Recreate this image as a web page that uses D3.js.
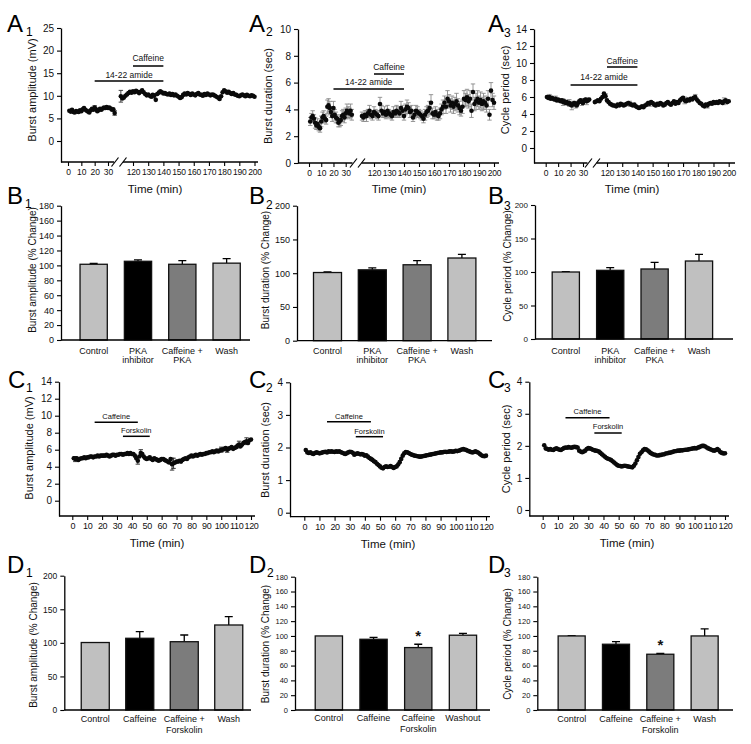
<!DOCTYPE html>
<html><head><meta charset="utf-8">
<script src="https://cdnjs.cloudflare.com/ajax/libs/d3/7.8.5/d3.min.js"></script>
<style>body{margin:0;background:#fff;}svg{display:block;}text{font-family:"Liberation Sans",Arial,sans-serif;}</style>
</head><body><script>
// ================= DATA =================
const aTicksPre=[0,10,20,30];
const aTicksPost=[120,130,140,150,160,170,180,190,200];
const cTicks=[0,10,20,30,40,50,60,70,80,90,100,110,120];
const yTicksA1=[0,5,10,15,20,25];
const yTicksA2=[0,2,4,6,8,10];
const yTicksA3=[0,2,4,6,8,10,12,14];
const yTicksC1=[0,2,4,6,8,10,12,14];
const yTicksC23=[0,1,2,3,4];
const yTicks180=[0,20,40,60,80,100,120,140,160,180];
const yTicks200=[0,50,100,150,200];

const preStart=1, postStart=112, cStart=1; // minute of first sample

// A1 burst amplitude (mV)
const ampPre=[6.7,6.5,6.9,6.4,6.3,6.6,6.5,6.4,6.8,6.6,7.0,7.3,6.9,6.7,6.5,6.3,6.8,7.1,6.9,7.4,7.0,6.6,6.8,7.1,6.9,7.2,7.4,7.3,7.5,7.3,7.4,7.2,6.9,7.0,6.2];
const ampPost=[9.9,9.4,9.6,10.0,10.3,10.6,10.9,10.7,11.0,10.8,
11.1,10.9,10.6,10.9,11.2,10.8,10.4,10.1,10.3,10.0,
9.8,10.2,10.0,9.1,10.4,10.7,11.0,10.8,10.5,10.6,
10.4,10.3,10.5,10.2,10.4,10.1,10.3,10.0,9.8,9.5,
9.7,10.2,10.5,10.3,10.6,10.4,10.2,10.5,10.3,10.1,
10.4,10.6,10.3,10.2,10.0,10.4,10.2,10.5,10.3,10.1,
10.3,10.2,10.0,9.8,9.6,9.3,9.9,10.8,11.2,11.0,
10.7,10.9,10.6,10.4,10.6,10.3,10.2,10.0,9.9,10.1,
10.3,10.1,9.9,10.2,10.0,9.9,10.1,10.0,9.8];
const ampErr=[[112,1.3],[35,0.5],[134,0.5],[20,0.4]];

// A2 burst duration (sec)
const durPre=[3.1,3.4,3.5,3.3,3.0,2.8,2.9,2.7,2.6,3.1,3.4,3.5,3.3,3.2,4.2,4.3,4.1,3.8,3.5,4.1,3.6,3.4,3.3,3.0,3.1,3.2,3.5,3.6,3.4,3.7,3.9,3.8,3.7,3.9,3.6];
const durPreErr=[0.3,0.3,0.4,0.3,0.4,0.3,0.4,0.3,0.3,0.4,0.4,0.4,0.3,0.3,0.5,0.5,0.5,0.4,0.4,0.5,0.4,0.4,0.3,0.3,0.4,0.4,0.4,0.4,0.4,0.4,0.5,0.4,0.4,0.5,0.4];
const durPost=[3.5,3.4,3.6,3.5,3.7,3.9,3.6,3.5,3.8,3.7,
3.6,3.5,4.4,3.9,3.7,3.8,3.6,3.9,3.7,3.6,
3.5,3.8,3.7,3.9,3.8,3.7,4.1,3.9,3.5,4.0,
4.2,4.1,3.8,3.9,3.4,3.6,3.9,3.8,3.7,3.6,
3.5,3.3,3.6,3.8,3.9,4.1,4.5,3.7,3.6,3.8,
3.6,3.5,3.7,4.0,4.2,4.5,4.2,4.8,4.6,4.3,
4.5,4.2,4.4,4.6,4.3,4.1,3.9,4.2,4.8,4.7,
4.9,4.6,4.8,3.9,5.3,4.4,4.6,4.8,4.5,4.7,
4.4,4.6,4.5,4.3,4.8,3.6,5.4,4.7,4.5];
const durPostErr=[0.3,0.3,0.3,0.4,0.3,0.4,0.3,0.3,0.4,0.3,
0.3,0.3,0.5,0.4,0.3,0.4,0.3,0.4,0.3,0.3,
0.3,0.4,0.3,0.4,0.4,0.3,0.5,0.4,0.3,0.4,
0.5,0.4,0.4,0.4,0.3,0.3,0.4,0.4,0.3,0.3,
0.3,0.3,0.4,0.4,0.4,0.5,0.6,0.4,0.3,0.4,
0.4,0.3,0.4,0.4,0.5,0.5,0.5,0.6,0.5,0.5,
0.5,0.5,0.5,0.6,0.5,0.5,0.4,0.5,0.6,0.5,
0.6,0.5,0.6,0.5,0.6,0.5,0.6,0.6,0.5,0.6,
0.5,0.6,0.5,0.5,0.6,0.4,0.6,0.5,0.5];

// A3 cycle period (sec)
const perPre=[6.0,5.9,6.0,5.8,5.9,5.8,5.7,5.8,5.6,5.7,5.6,5.5,5.6,5.4,5.5,5.3,5.4,5.2,5.3,5.1,5.0,5.2,5.3,5.1,5.0,5.3,5.5,5.6,5.4,5.3,5.6,5.7,5.5,5.6,5.7];
const perPost=[5.4,5.5,5.6,5.5,5.8,6.0,6.4,6.1,5.6,5.4,
5.2,5.1,5.0,5.0,4.9,5.1,5.0,5.2,5.1,5.0,
5.1,5.2,5.3,5.2,5.1,5.0,5.1,4.9,4.8,4.7,
4.8,4.9,4.8,5.0,5.1,5.3,5.2,5.4,5.3,5.1,
5.0,5.2,5.1,5.3,5.2,5.0,5.1,5.3,5.4,5.2,
5.1,5.3,5.5,5.2,5.4,5.3,5.6,5.8,5.9,5.6,
5.5,5.7,5.6,5.8,5.7,5.9,6.0,5.7,5.5,5.3,
5.2,5.0,4.9,5.1,5.0,5.2,5.3,5.2,5.4,5.3,
5.4,5.3,5.5,5.4,5.3,5.5,5.6,5.4,5.5];
const perErr=[[3,0.3],[8,0.3],[14,0.4],[19,0.4],[21,0.5],[24,0.4],[29,0.4],[33,0.4],[119,0.3],[135,0.3],[148,0.3],[171,0.4],[178,0.3],[186,0.3],[197,0.4]];

// C panels (minutes 1..120)
const cAmp=[5.0,4.9,5.0,4.8,4.9,5.0,5.0,5.1,5.0,5.1,
5.1,5.2,5.2,5.1,5.2,5.2,5.3,5.2,5.3,5.3,
5.3,5.3,5.4,5.3,5.2,5.3,5.4,5.4,5.3,5.4,
5.4,5.5,5.5,5.4,5.5,5.5,5.6,5.5,5.6,5.5,
5.5,5.3,5.0,4.7,5.2,5.6,5.5,5.2,5.0,4.9,
5.0,5.1,4.9,4.8,5.0,4.9,4.8,4.7,4.8,4.9,
4.9,4.8,4.7,4.6,4.5,4.9,4.3,4.4,4.5,4.6,
4.6,4.7,4.6,4.8,4.9,5.0,4.9,5.1,5.2,5.3,
5.2,5.3,5.4,5.3,5.4,5.5,5.4,5.5,5.5,5.6,
5.6,5.7,5.7,5.8,5.7,5.8,5.9,5.8,5.9,6.0,
6.0,6.1,6.2,6.0,6.1,6.2,6.3,6.1,6.2,6.3,
6.5,6.6,6.4,6.6,6.8,6.9,7.0,6.8,7.1,7.2];
const cAmpErr=[[2,0.3],[44,0.4],[46,0.4],[67,0.7],[68,0.6],[100,0.3],[104,0.3],[112,0.4],[117,0.4]];
const cDur=[1.92,1.85,1.83,1.85,1.82,1.80,1.83,1.85,1.84,1.82,
1.83,1.85,1.86,1.87,1.85,1.88,1.87,1.88,1.87,1.86,
1.88,1.87,1.88,1.86,1.84,1.82,1.80,1.82,1.85,1.87,
1.86,1.84,1.78,1.80,1.82,1.81,1.79,1.80,1.78,1.75,
1.76,1.72,1.68,1.65,1.62,1.58,1.55,1.50,1.46,1.42,
1.38,1.36,1.40,1.42,1.40,1.41,1.43,1.40,1.37,1.40,
1.42,1.48,1.55,1.65,1.75,1.82,1.86,1.85,1.83,1.80,
1.78,1.76,1.75,1.74,1.73,1.72,1.72,1.73,1.74,1.75,
1.76,1.77,1.78,1.79,1.80,1.81,1.82,1.83,1.84,1.85,
1.85,1.86,1.87,1.86,1.87,1.88,1.88,1.87,1.88,1.90,
1.89,1.90,1.92,1.94,1.95,1.94,1.92,1.90,1.88,1.86,
1.85,1.86,1.88,1.86,1.84,1.80,1.76,1.74,1.73,1.75];
const cPer=[2.02,1.92,1.90,1.88,1.90,1.88,1.87,1.90,1.92,1.90,
1.88,1.87,1.90,1.93,1.95,1.94,1.96,1.95,1.94,1.96,
1.97,1.96,1.95,1.85,1.82,1.80,1.82,1.85,1.90,1.93,
1.92,1.90,1.88,1.86,1.85,1.84,1.82,1.78,1.74,1.70,
1.66,1.62,1.60,1.58,1.56,1.52,1.48,1.44,1.40,1.38,
1.37,1.36,1.37,1.38,1.37,1.36,1.35,1.34,1.33,1.38,
1.45,1.55,1.65,1.75,1.80,1.86,1.90,1.89,1.86,1.82,
1.78,1.75,1.73,1.72,1.70,1.70,1.71,1.72,1.73,1.74,
1.76,1.77,1.78,1.79,1.80,1.82,1.83,1.84,1.85,1.85,
1.86,1.86,1.87,1.88,1.88,1.89,1.90,1.91,1.92,1.93,
1.92,1.94,1.96,1.98,2.00,2.00,1.98,1.95,1.92,1.90,
1.88,1.86,1.85,1.87,1.90,1.86,1.80,1.78,1.76,1.77];

// drug application periods (min)
const amideOn=[20,140], caffA=[120,140];
const caffC=[15,44], forskC=[34,52];

// bar charts (% change)
const catsB=["Control","PKA\ninhibitor","Caffeine +\nPKA","Wash"];
const b1Vals=[101.5,105.5,101.5,103], b1Err=[1,2,5,6];
const b2Vals=[101,105,112.5,122.5], b2Err=[1,3,6,5.5];
const b3Vals=[100,102.5,104.5,116.4], b3Err=[0.6,4,10,10];
const catsD1=["Control","Caffeine","Caffeine +\nForskolin","Wash"];
const catsD2=["Control","Caffeine","Caffeine\nForskolin","Washout"];
const catsD3=["Control","Caffeine","Caffeine +\nForskolin","Wash"];
const d1Vals=[100.5,106.8,101.7,126.6], d1Err=[0,9.8,10,12.4];
const d2Vals=[100,95.5,84.3,101], d2Err=[0,2.7,4.5,2.4], d2Star=[2];
const d3Vals=[100,88.8,75.3,100], d3Err=[0.5,3.6,1,9.5], d3Star=[2];

// ================= DRAWING =================
const FONT='"Liberation Sans", Arial, sans-serif';
const svg=d3.select("body").append("svg").attr("width",751).attr("height",744);
const barFill=["#c0c0c0","#000000","#7c7c7c","#c0c0c0"];
const fmt=d3.format("~g");

function styleAxis(g,fs,ls){
  g.selectAll("path.domain").attr("stroke","#000").attr("stroke-width",1.3);
  g.selectAll(".tick line").attr("stroke","#000").attr("stroke-width",1.1);
  g.selectAll(".tick text").attr("font-family",FONT).attr("font-size",fs).attr("fill","#111")
    .attr("letter-spacing",ls||0);
}
function hline(g,x1,x2,y,w){g.append("line").attr("x1",x1).attr("x2",x2).attr("y1",y).attr("y2",y).attr("stroke","#000").attr("stroke-width",w||1.3);}
function ytitle(x,y,txt,fs){
  svg.append("text").attr("transform",`translate(${x},${y}) rotate(-90)`).attr("text-anchor","middle")
    .attr("dominant-baseline","central").attr("font-size",fs).attr("fill","#111").text(txt);
}
function letter(L,s,x,y,sx,sy){
  svg.append("text").attr("x",x).attr("y",y).attr("font-size",24).attr("fill","#000").text(L);
  svg.append("text").attr("x",sx).attr("y",sy).attr("font-size",12).attr("fill","#000").text(s);
}
function yAxis(L,y){
  const g=svg.append("g").attr("transform",`translate(${L.yx},0)`)
    .call(d3.axisLeft(y).tickValues(L.yt).tickFormat(fmt).tickSize(4).tickSizeOuter(0).tickPadding(3));
  styleAxis(g,L.yfs);
}

function timePanel(L,segs){
  const yt=L.yt, top=yt[yt.length-1];
  const y=d3.scaleLinear().domain([yt[0],top]).range([L.y0,L.y1]);
  y.domain([y.invert(L.axisY),top]).range([L.axisY,L.y1]);
  const gx=svg.append("g").attr("transform",`translate(0,${L.axisY})`);
  let x;
  if(L.broken){
    const x1=d3.scaleLinear().domain([0,30]).range([L.x0,L.x30]);
    const x2=d3.scaleLinear().domain([120,200]).range([L.x120,L.x200]);
    x=t=>t<75?x1(t):x2(t);
    const a1=gx.append("g").call(d3.axisBottom(x1).tickValues(aTicksPre).tickFormat(fmt).tickSize(4).tickPadding(3));
    const a2=gx.append("g").call(d3.axisBottom(x2).tickValues(aTicksPost).tickFormat(fmt).tickSize(4).tickPadding(3));
    a1.select(".domain").remove(); a2.select(".domain").remove();
    styleAxis(a1,L.xfs); styleAxis(a2,L.xfs,L.xls);
    hline(gx,L.yx,L.bx-5,0); hline(gx,L.bx+4,L.xEnd,0);
    [-4,4].forEach(d=>gx.append("line").attr("x1",L.bx+d-3.5).attr("y1",4.5).attr("x2",L.bx+d+3.5).attr("y2",-4.5)
      .attr("stroke","#000").attr("stroke-width",1.2));
  } else {
    x=d3.scaleLinear().domain([0,120]).range([L.x0,L.x120]);
    const a=gx.append("g").call(d3.axisBottom(x).tickValues(cTicks).tickFormat(fmt).tickSize(4).tickPadding(3));
    a.select(".domain").remove();styleAxis(a,L.xfs,L.xls);
    hline(gx,L.yx,L.xEnd,0);
  }
  yAxis(L,y);
  const g=svg.append("g");
  segs.forEach(s=>{
    const pts=s.vals.map((v,i)=>({t:s.start+i,v:v,e:s.err?s.err[i]:0}));
    if(s.sparse){s.sparse.forEach(([t,e])=>{const p=pts.find(q=>q.t===t); if(p)p.e=e;});}
    const eb=pts.filter(p=>p.e>0);
    g.selectAll(null).data(eb).enter().append("path")
      .attr("d",p=>{const cx=x(p.t),a=y(p.v+p.e),b=y(p.v-p.e);return `M${cx},${a}V${b}M${cx-2.2},${a}H${cx+2.2}M${cx-2.2},${b}H${cx+2.2}`;})
      .attr("stroke",s.ecol||"#333").attr("stroke-width",0.9).attr("fill","none");
    g.selectAll(null).data(pts).enter().append("circle")
      .attr("cx",p=>x(p.t)).attr("cy",p=>y(p.v)).attr("r",2.3).attr("fill","#0a0a0a");
  });
  L.drugs.forEach(d=>{
    hline(svg,x(d.span[0]),x(d.span[1]),d.by,1.5);
    svg.append("text").attr("x",(x(d.span[0])+x(d.span[1]))/2).attr("y",d.ly).attr("text-anchor","middle")
      .attr("dominant-baseline","central").attr("font-size",L.dfs).attr("fill","#111").text(d.label);
  });
  ytitle(L.tx,L.ty,L.title,11);
  svg.append("text").attr("x",L.timeX).attr("y",L.timeY).attr("text-anchor","middle").attr("dominant-baseline","central")
    .attr("font-size",11.5).attr("fill","#111").text("Time (min)");
}

function barPanel(L,cats,vals,errs,stars){
  const yt=L.yt, top=yt[yt.length-1];
  const y=d3.scaleLinear().domain([0,top]).range([L.y0,L.y1]);
  const xb=d3.scaleBand().domain(cats).range([L.r0,L.r1]).paddingInner(L.p).paddingOuter(L.p/2);
  const g=svg.append("g");
  cats.forEach((c,i)=>{
    const v=vals[i],e=errs[i],cx=xb(c)+xb.bandwidth()/2;
    if(e>0){
      g.append("path").attr("d",`M${cx},${y(v)}V${y(v+e)}M${cx-4},${y(v+e)}H${cx+4}`).attr("stroke","#000").attr("stroke-width",1.3).attr("fill","none");
    }
    g.append("rect").attr("x",xb(c)).attr("y",y(v)).attr("width",xb.bandwidth()).attr("height",y(0)-y(v))
      .attr("fill",barFill[i]).attr("stroke","#111").attr("stroke-width",1.3);
    const t=svg.append("text").attr("text-anchor","middle").attr("font-size",L.cfs).attr("fill","#111");
    c.split("\n").forEach((ln,k)=>t.append("tspan").attr("x",cx).attr("y",L.catY+k*L.lh).text(ln));
  });
  (stars||[]).forEach(i=>{
    const c=cats[i],cx=xb(c)+xb.bandwidth()/2;
    svg.append("text").attr("x",cx).attr("y",y(vals[i]+errs[i])-L.starGap).attr("text-anchor","middle")
      .attr("font-size",15).attr("font-weight","bold").attr("fill","#111").text("*");
  });
  hline(svg,L.yx,L.xEnd,L.y0);
  yAxis(L,y);
  ytitle(L.tx,L.ty,L.title,L.tfs);
}

// ---------- A row ----------
timePanel({broken:true,yx:61,yt:yTicksA1,y0:141,y1:28,axisY:162,x0:68,x30:108,x120:133,x200:254.5,bx:119,xEnd:258,
  yfs:10,xfs:8.5,xls:-0.2,dfs:8.5,title:"Burst amplitude (mV)",tx:32,ty:90,timeX:155,timeY:189,
  drugs:[{label:"Caffeine",span:caffA,by:66,ly:58},{label:"14-22 amide",span:amideOn,by:81,ly:75}]},
  [{start:preStart,vals:ampPre,sparse:ampErr},{start:postStart,vals:ampPost,sparse:ampErr}]);
timePanel({broken:true,yx:298,yt:yTicksA2,y0:163,y1:29,axisY:163,x0:309,x30:345.7,x120:374,x200:494,bx:357.5,xEnd:499,
  yfs:10,xfs:8.5,xls:-0.2,dfs:8.5,title:"Burst duration (sec)",tx:268,ty:96,timeX:399,timeY:189,
  drugs:[{label:"Caffeine",span:caffA,by:74,ly:67},{label:"14-22 amide",span:amideOn,by:89,ly:82}]},
  [{start:preStart,vals:durPre,err:durPreErr,ecol:"#8a8a8a"},{start:postStart,vals:durPost,err:durPostErr,ecol:"#8a8a8a"}]);
timePanel({broken:true,yx:534,yt:yTicksA3,y0:148,y1:29,axisY:163,x0:545.7,x30:583,x120:607,x200:728.7,bx:592.5,xEnd:735,
  yfs:10,xfs:8.5,xls:-0.2,dfs:8.5,title:"Cycle period (sec)",tx:505,ty:90,timeX:632,timeY:189,
  drugs:[{label:"Caffeine",span:caffA,by:67,ly:61},{label:"14-22 amide",span:amideOn,by:85,ly:77}]},
  [{start:preStart,vals:perPre,sparse:perErr,ecol:"#8a8a8a"},{start:postStart,vals:perPost,sparse:perErr,ecol:"#8a8a8a"}]);

// ---------- B row ----------
barPanel({yx:61,yt:yTicks180,y0:340,y1:205.7,r0:71.5,r1:248.8,p:0.385,xEnd:250,yfs:9,cfs:9,catY:353.5,lh:9.5,
  title:"Burst amplitude (% Change)",tx:32,ty:270,tfs:10},catsB,b1Vals,b1Err);
barPanel({yx:297,yt:yTicks200,y0:340.7,y1:205.7,r0:305.1,r1:484.3,p:0.375,xEnd:492,yfs:9,cfs:9,catY:353.5,lh:9.5,
  title:"Burst duration (% Change)",tx:265,ty:270,tfs:10},catsB,b2Vals,b2Err);
barPanel({yx:535,yt:yTicks200,y0:339,y1:205,r0:543.6,r1:721.2,p:0.387,xEnd:733,yfs:8,cfs:9,catY:353.5,lh:9.5,
  title:"Cycle period (% Change)",tx:507,ty:266,tfs:10},catsB,b3Vals,b3Err);

// ---------- C row ----------
timePanel({broken:false,yx:59,yt:yTicksC1,y0:500.7,y1:381.7,axisY:516,x0:72.3,x120:251,xEnd:255,
  yfs:10,xfs:9,xls:-0.3,dfs:7.5,title:"Burst amplitude (mV)",tx:29,ty:448,timeX:157,timeY:543,
  drugs:[{label:"Caffeine",span:caffC,by:422.3,ly:416.5},{label:"Forskolin",span:forskC,by:436.3,ly:430.5}]},
  [{start:cStart,vals:cAmp,sparse:cAmpErr,ecol:"#222"}]);
timePanel({broken:false,yx:290,yt:yTicksC23,y0:512.7,y1:382.3,axisY:516.7,x0:304.3,x120:486,xEnd:490,
  yfs:10,xfs:9,xls:-0.3,dfs:7.5,title:"Burst duration (sec)",tx:265,ty:450,timeX:388,timeY:544,
  drugs:[{label:"Caffeine",span:caffC,by:421.7,ly:416},{label:"Forskolin",span:forskC,by:436.7,ly:431}]},
  [{start:cStart,vals:cDur}]);
timePanel({broken:false,yx:529.3,yt:yTicksC23,y0:510,y1:381.7,axisY:516,x0:542.7,x120:725,xEnd:729,
  yfs:10,xfs:9,xls:-0.3,dfs:7.5,title:"Cycle period (sec)",tx:505.7,ty:449,timeX:627,timeY:543,
  drugs:[{label:"Caffeine",span:caffC,by:417.7,ly:411.7},{label:"Forskolin",span:forskC,by:433,ly:426.7}]},
  [{start:cStart,vals:cPer}]);

// ---------- D row ----------
barPanel({yx:64.3,yt:yTicks200,y0:710,y1:575.7,r0:73,r1:251,p:0.37,xEnd:251,yfs:8.5,cfs:9,catY:721.5,lh:11.5,
  title:"Burst amplitude (% Change)",tx:33,ty:645,tfs:10},catsD1,d1Vals,d1Err);
barPanel({yx:295,yt:yTicks180,y0:710,y1:576.7,r0:306.5,r1:485.3,p:0.39,xEnd:490,yfs:7.5,cfs:9,catY:721,lh:11,starGap:3,
  title:"Burst duration (% Change)",tx:265,ty:644,tfs:10},catsD2,d2Vals,d2Err,d2Star);
barPanel({yx:537.3,yt:yTicks180,y0:710,y1:576.7,r0:549.5,r1:726.8,p:0.39,xEnd:733,yfs:7.5,cfs:9,catY:722,lh:11,starGap:3,
  title:"Cycle period (% Change)",tx:507,ty:644,tfs:10},catsD3,d3Vals,d3Err,d3Star);

// ---------- panel letters ----------
letter("A","1",7,32,26,36); letter("A","2",249,32,266,36); letter("A","3",488,32,504,37);
letter("B","1",7,204,25,208); letter("B","2",249,204,266,209); letter("B","3",488,204,504,210);
letter("C","1",8,388,26,392); letter("C","2",249,388,266,392); letter("C","3",488,388,504,392);
letter("D","1",7,573,26,577); letter("D","2",249,573,267,577); letter("D","3",488,573,504,577);
</script></body></html>
